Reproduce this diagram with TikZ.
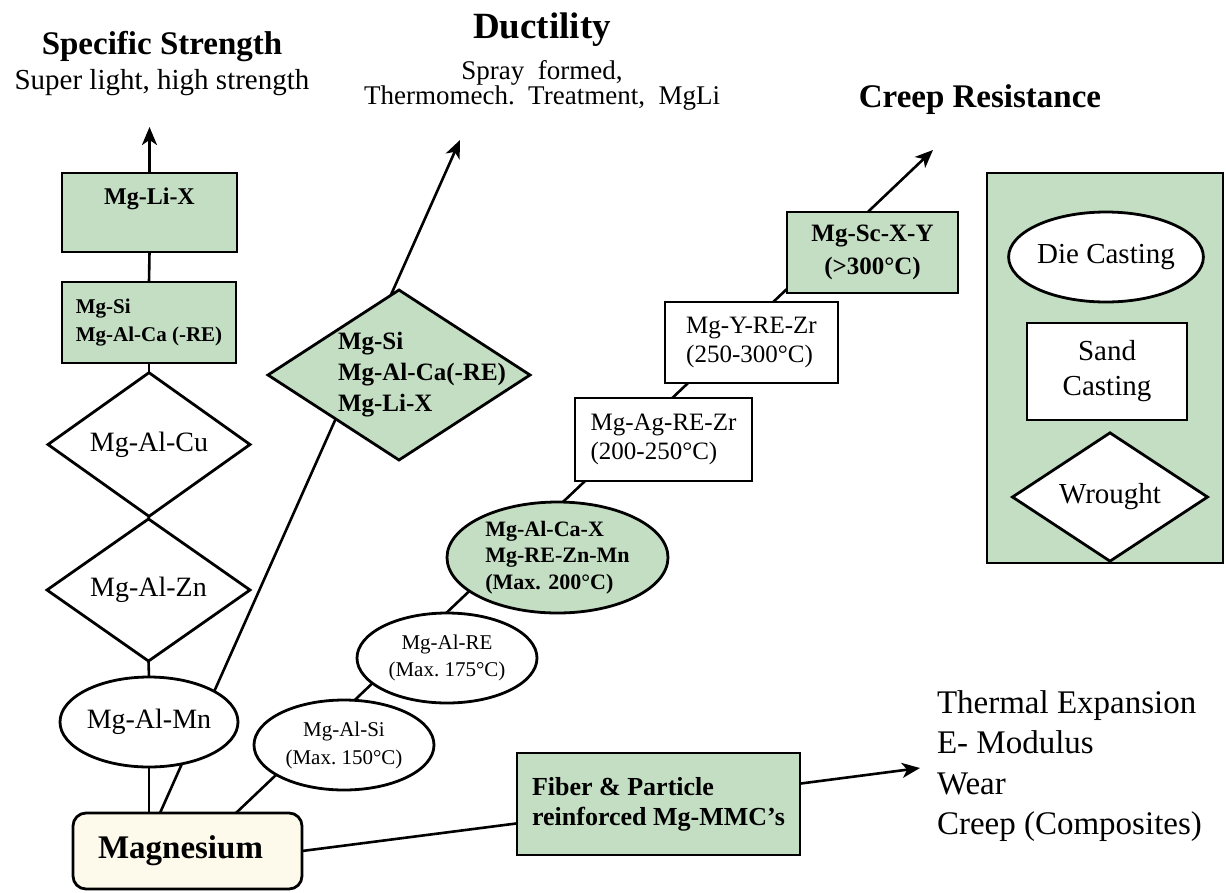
\documentclass[tikz,border=0pt]{standalone}
\usepackage{fontspec}
\setmainfont{Liberation Serif}
\usetikzlibrary{shapes.geometric,arrows.meta,calc}
\pgfdeclarelayer{bg}
\pgfsetlayers{bg,main}
\definecolor{gfill}{RGB}{196,222,196}
\definecolor{cream}{RGB}{253,250,236}
\newcommand{\myfs}[2]{\fontsize{#1}{#2}\selectfont}
\begin{document}
\begin{tikzpicture}[x=1pt,y=-1pt,
  every node/.style={inner sep=0pt,outer sep=0pt},
  conn/.style={line width=2.6pt,draw=black},
  arr/.style={conn,-{Stealth[length=18pt,width=15pt,inset=5pt]}},
  sbox/.style={rectangle,draw,line width=2.8pt},
  gbox/.style={sbox,fill=gfill},
  wbox/.style={sbox,fill=white},
  dia/.style={diamond,draw,line width=2.8pt,fill=white},
  ell/.style={ellipse,draw,line width=2.8pt,fill=white},
  head/.style={font=\bfseries\myfs{33}{38}}
]
\useasboundingbox (0,0) rectangle (1226,892);

% headings
\node[head] (hspec) at (162,47) {Specific Strength};
\node[font=\myfs{29}{33}] (hspecsub) at (162,83) {Super light, high strength};
\node[font=\bfseries\myfs{37}{40}] (hduct) at (542,30) {Ductility};
\node[align=center,font=\myfs{27}{25}] (hductsub) at (542,85) {Spray\ \ formed,\\Thermomech.\ \ Treatment,\ \ MgLi};
\node[head] (hcreep) at (980,100) {Creep Resistance};

% left column (specific strength)
\node[gbox,minimum width=175,minimum height=79,
  label={[anchor=north,yshift=-15pt,font=\bfseries\myfs{24}{28}]north:Mg-Li-X}] (mgli) at (149.5,212.5) {};
\node[gbox,minimum width=174,minimum height=81,align=left,font=\bfseries\myfs{21}{28}] (mgsi) at (149,322.5) {Mg-Si\\Mg-Al-Ca (-RE)};
\node[dia,minimum width=202,minimum height=115,font=\myfs{28}{32}] (cu) at (149,444.5) {Mg-Al-Cu};
\node[dia,minimum width=203,minimum height=116,font=\myfs{28}{32}] (zn) at (148.5,590) {Mg-Al-Zn};
\node[ell,minimum width=178,minimum height=90,font=\myfs{28}{32}] (mn) at (149,722) {Mg-Al-Mn};

% base
\node[draw,line width=2.8pt,rounded corners=13pt,fill=cream,minimum width=229,minimum height=76,font=\bfseries\myfs{33}{38}] (mag) at (187.5,851) {Magnesium\hspace*{14pt}};

% ductility diamond
\node[dia,fill=gfill,minimum width=262,minimum height=170] (msd) at (399,375) {};
\node[anchor=west,align=left,font=\bfseries\myfs{25}{31}] (msdt) at (338,375) {Mg-Si\\Mg-Al-Ca(-RE)\\Mg-Li-X};

% creep chain
\node[ell,minimum width=180,minimum height=90,align=center,font=\myfs{21}{28}] (alsi) at (344,745) {Mg-Al-Si\\(Max.\ 150°C)};
\node[ell,minimum width=180,minimum height=90,align=center,font=\myfs{21}{27}] (alre) at (447,658) {Mg-Al-RE\\(Max.\ 175°C)};
\node[ell,fill=gfill,minimum width=221,minimum height=111,align=left,font=\bfseries\myfs{22}{26.5}] (alca) at (557.5,557.5) {Mg-Al-Ca-X\\Mg-RE-Zn-Mn\\(Max. 200°C)};
\node[wbox,minimum width=177,minimum height=83,align=left,font=\myfs{25}{29}] (agre) at (663.5,439.5) {Mg-Ag-RE-Zr\\(200-250°C)};
\node[wbox,minimum width=173,minimum height=81,align=left,font=\myfs{25}{29}] (yre) at (751.5,342.5) {Mg-Y-RE-Zr\\(250-300°C)};
\node[gbox,minimum width=171,minimum height=81,align=center,font=\bfseries\myfs{25}{33}] (sc) at (872.5,252.5) {Mg-Sc-X-Y\\(>300°C)};

% composites
\node[gbox,minimum width=283,minimum height=102,align=left,font=\bfseries\myfs{26}{30}] (fiber) at (658.5,804) {Fiber \& Particle\\reinforced Mg-MMC's};
\node[anchor=west,align=left,font=\myfs{33}{40.5}] (props) at (937,766) {Thermal Expansion\\E- Modulus\\Wear\\Creep (Composites)};

% legend
\node[gbox,minimum width=236,minimum height=390] (legend) at (1105,368) {};
\node[ell,minimum width=178,minimum height=90,font=\myfs{29}{33}] (die) at (1106,257) {Die Casting};
\node[wbox,minimum width=160,minimum height=97,align=center,font=\myfs{29}{35}] (sand) at (1107,371.5) {Sand\\Casting};
\node[dia,minimum width=195,minimum height=113,font=\myfs{29}{33}] (wrought) at (1110,497) {Wrought};

% free ends of arrows
\coordinate (spectip) at (149.5,127);
\coordinate (ducttip) at (460,140);
\coordinate (creeptip) at (933,150);
\coordinate (fibtip) at (920,768);

\begin{pgfonlayer}{bg}
\draw[arr] (mgli.north) -- (spectip);
\draw[conn] (mgli.south) -- (mgsi.north);
\draw[conn] (mgsi.south) -- (cu.north);
\draw[conn] (cu.south) -- (zn.north);
\draw[conn] (zn.south) -- (mn.north);
\draw[conn] (mn.south) -- (mn.south |- mag.north);
\draw[arr] ($(mag.north west)+(87,0)$) -- (ducttip);
\draw[arr] ($(mag.north west)+(163,0)$) -- (creeptip);
\draw[conn] (mag.east) -- ($(fiber.south west)!0.31!(fiber.north west)$);
\draw[arr] ($(fiber.south east)!0.7!(fiber.north east)$) -- (fibtip);
\end{pgfonlayer}
\end{tikzpicture}
\end{document}
